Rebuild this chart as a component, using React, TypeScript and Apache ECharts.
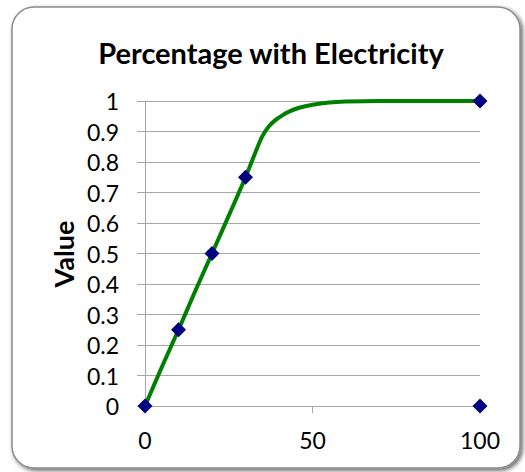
import React, { useEffect, useRef } from "react";
import * as echarts from "echarts";

const title = "Percentage with Electricity";
const yAxisName = "Value";
const pointsX = [0, 10, 20, 30, 100, 100];
const pointsY = [0, 0.25, 0.5, 0.75, 1, 0];
const curveX = [0, 5, 10, 15, 20, 25, 30, 33, 35, 37, 39, 41, 43, 46, 50, 55, 60, 70, 100];
const curveY = [0, 0.127, 0.25, 0.377, 0.5, 0.624, 0.75, 0.833, 0.884, 0.917, 0.938, 0.953, 0.965, 0.978, 0.988, 0.995, 0.998, 1, 1];

export default function App() {
  const ref = useRef<HTMLDivElement>(null);
  useEffect(() => {
    if (!ref.current) return;
    const chart = echarts.init(ref.current, undefined, { renderer: "svg" });
    const font = "Lato, 'Open Sans', sans-serif";
    chart.setOption({
      animation: false,
      backgroundColor: "#ffffff",
      graphic: [
        {
          type: "rect",
          shape: { x: 12, y: 7, width: 508, height: 461, r: 22 },
          style: {
            fill: "#ffffff",
            stroke: "#8c8c8c",
            lineWidth: 1.5,
            shadowColor: "rgba(0,0,0,0.6)",
            shadowBlur: 4,
            shadowOffsetX: 2,
            shadowOffsetY: 2,
          },
          z: -10,
          silent: true,
        },
        {
          type: "text",
          x: 271,
          y: 52,
          style: {
            text: title,
            font: `bold 29px ${font}`,
            fill: "#000000",
            textAlign: "center",
            textVerticalAlign: "middle",
          },
        },
        {
          type: "text",
          x: 63,
          y: 254,
          rotation: Math.PI / 2,
          style: {
            text: yAxisName,
            font: `bold 27px ${font}`,
            fill: "#000000",
            textAlign: "center",
            textVerticalAlign: "middle",
          },
        },
      ],
      grid: { left: 145, right: 45, top: 101, bottom: 66, containLabel: false },
      xAxis: {
        type: "value",
        min: 0,
        max: 100,
        interval: 50,
        axisLine: { show: true, lineStyle: { color: "#a6a6a6", width: 1 } },
        axisTick: { show: true, length: 7, lineStyle: { color: "#a6a6a6" } },
        splitLine: { show: false },
        axisLabel: { fontSize: 23, color: "#000000", fontFamily: font, margin: 22 },
      },
      yAxis: {
        type: "value",
        min: 0,
        max: 1,
        interval: 0.1,
        axisLine: { show: true, lineStyle: { color: "#a6a6a6", width: 1 } },
        axisTick: { show: true, length: 8, lineStyle: { color: "#a6a6a6" } },
        splitLine: { show: true, lineStyle: { color: "#a6a6a6", width: 1 } },
        axisLabel: {
          fontSize: 23,
          color: "#000000",
          fontFamily: font,
          margin: 26,
          formatter: (v: number) => String(Math.round(v * 10) / 10),
        },
      },
      series: [
        {
          type: "line",
          data: curveX.map((x, i) => [x, curveY[i]]),
          smooth: 0.3,
          showSymbol: false,
          lineStyle: { color: "#008000", width: 4 },
          z: 2,
        },
        {
          type: "scatter",
          data: pointsX.map((x, i) => [x, pointsY[i]]),
          symbol: "diamond",
          symbolSize: 15,
          itemStyle: { color: "#000080", opacity: 1 },
          z: 3,
        },
      ],
    });
    return () => chart.dispose();
  }, []);
  return (
    <div
      ref={ref}
      style={{ position: "fixed", left: 0, top: 0, width: 525, height: 472 }}
    />
  );
}
